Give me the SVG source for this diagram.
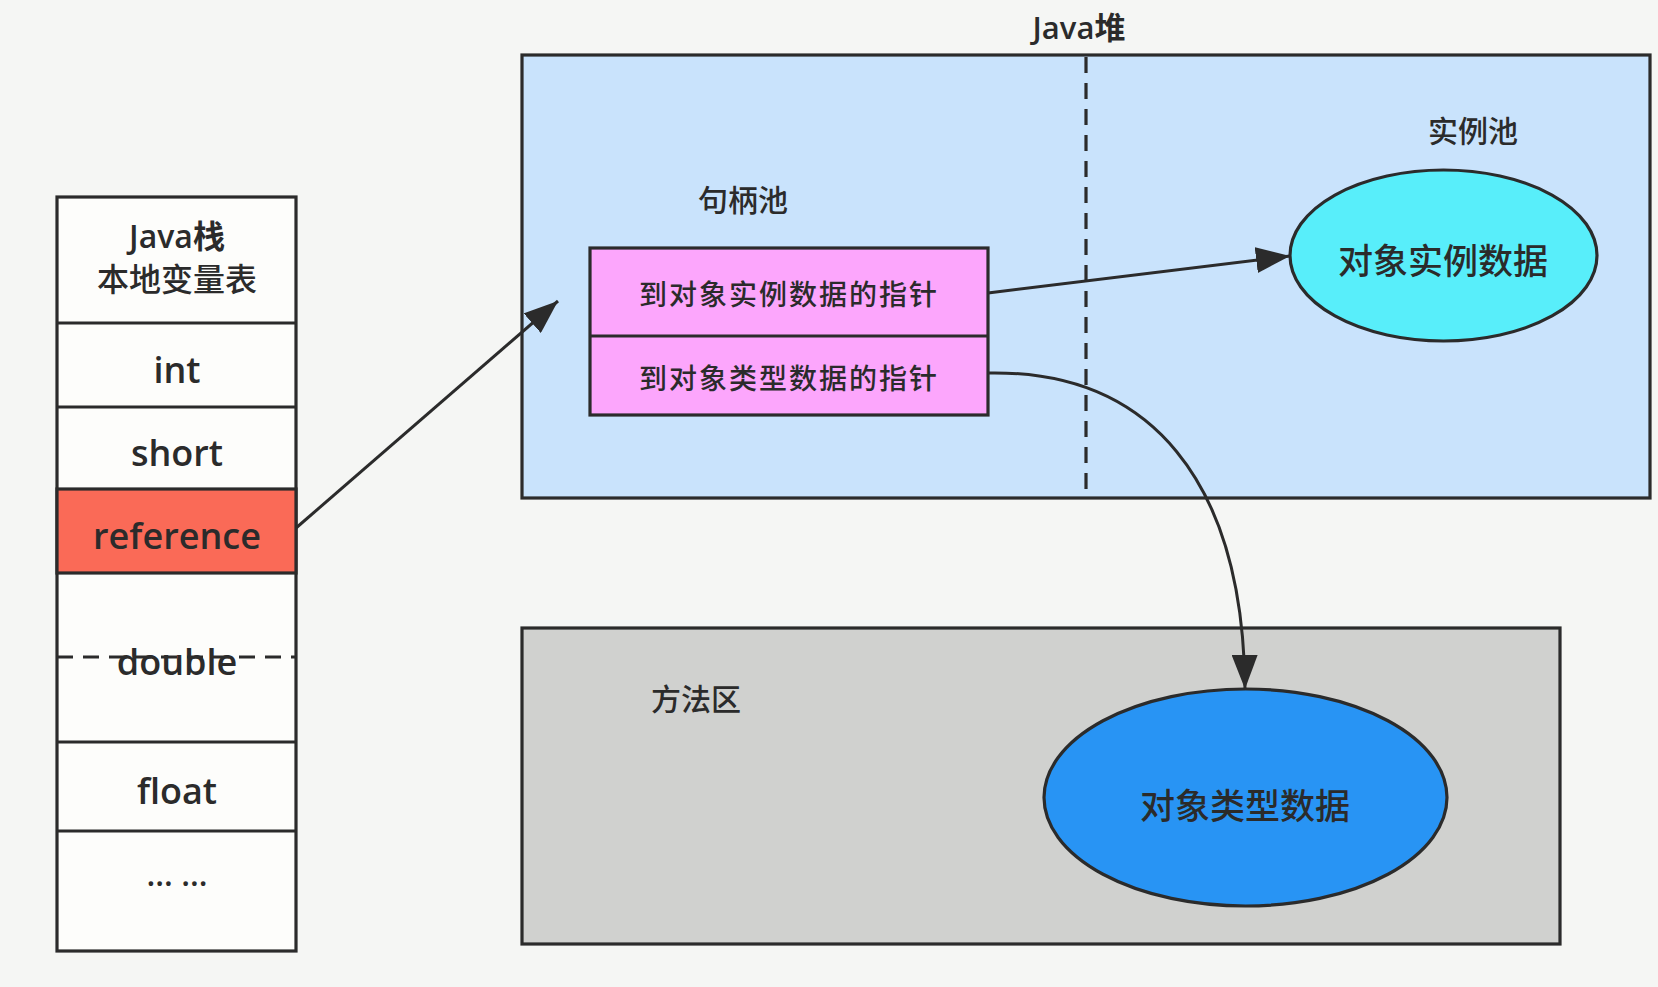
<svg xmlns="http://www.w3.org/2000/svg" width="1658" height="987" viewBox="0 0 1658 987">
<style>
.b{stroke:#2b2b2b;stroke-width:3.2}
.t{font-family:"Open Sans","Noto Sans CJK SC",sans-serif;font-weight:600;fill:#2b2b2b;text-anchor:middle;dominant-baseline:central}
.c{font-family:"Noto Sans CJK SC",sans-serif;font-weight:500;fill:#2b2b2b;text-anchor:middle;dominant-baseline:central}
.ln{fill:none;stroke:#2b2b2b;stroke-width:3}
</style>
<defs>
<marker id="ah" markerUnits="userSpaceOnUse" markerWidth="36" markerHeight="26" refX="34" refY="13" orient="auto">
<path d="M0,0 L34,13 L0,26 Z" fill="#2b2b2b"/>
</marker>
</defs>
<rect x="0" y="0" width="1658" height="987" fill="#f5f6f4"/>

<g id="stack">
<rect class="b" x="57" y="197" width="239" height="754" fill="#fdfdfb"/>
<rect class="b" x="57" y="489" width="239" height="84" fill="#fa6a57"/>
<line class="b" x1="57" y1="323" x2="296" y2="323"/>
<line class="b" x1="57" y1="407" x2="296" y2="407"/>
<line class="b" x1="57" y1="742" x2="296" y2="742"/>
<line class="b" x1="57" y1="831" x2="296" y2="831"/>
<line class="b" x1="57" y1="657" x2="296" y2="657" stroke-dasharray="16,10"/>
<text class="t" x="177" y="235" font-size="32">Java栈</text>
<text class="c" x="177" y="277" font-size="32">本地变量表</text>
<text class="t" x="177" y="369" font-size="36">int</text>
<text class="t" x="177" y="452" font-size="36">short</text>
<text class="t" x="177" y="535" font-size="36">reference</text>
<text class="t" x="177" y="661" font-size="36">double</text>
<text class="t" x="177" y="790" font-size="36">float</text>
<text class="t" x="177" y="873" font-size="32">... ...</text>
</g>

<g id="heap">
<text class="t" x="1079" y="27" font-size="31">Java堆</text>
<rect class="b" x="522" y="55" width="1128" height="443" fill="#c9e3fc"/>
<line class="b" x1="1086" y1="57" x2="1086" y2="496" stroke-dasharray="16,10"/>
<text class="c" x="743" y="198" font-size="30">句柄池</text>
<text class="c" x="1473" y="129" font-size="30">实例池</text>
</g>

<g id="handle">
<rect class="b" x="590" y="248" width="398" height="167" fill="#fca6fc"/>
<line class="b" x1="590" y1="336" x2="988" y2="336"/>
<text class="c" x="789" y="293" font-size="28" letter-spacing="2">到对象实例数据的指针</text>
<text class="c" x="789" y="377" font-size="28" letter-spacing="2">到对象类型数据的指针</text>
</g>

<g id="instance">
<ellipse class="b" cx="1443.5" cy="255.5" rx="153.5" ry="85.5" fill="#58eefa"/>
<text class="c" x="1443" y="258" font-size="35">对象实例数据</text>
</g>

<g id="method">
<rect class="b" x="522" y="628" width="1038" height="316" fill="#d0d1cf"/>
<text class="c" x="696" y="697" font-size="30">方法区</text>
</g>

<g id="type">
<ellipse class="b" cx="1245.5" cy="797.5" rx="201.5" ry="108.5" fill="#2894f4"/>
<text class="c" x="1245" y="803" font-size="35">对象类型数据</text>
</g>

<g id="connectors">
<line class="ln" x1="296" y1="528" x2="558" y2="301" marker-end="url(#ah)"/>
<line class="ln" x1="988" y1="293" x2="1290" y2="256" marker-end="url(#ah)"/>
<path class="ln" d="M988,373 C1150,370 1243,480 1245,689" marker-end="url(#ah)"/>
</g>
</svg>
